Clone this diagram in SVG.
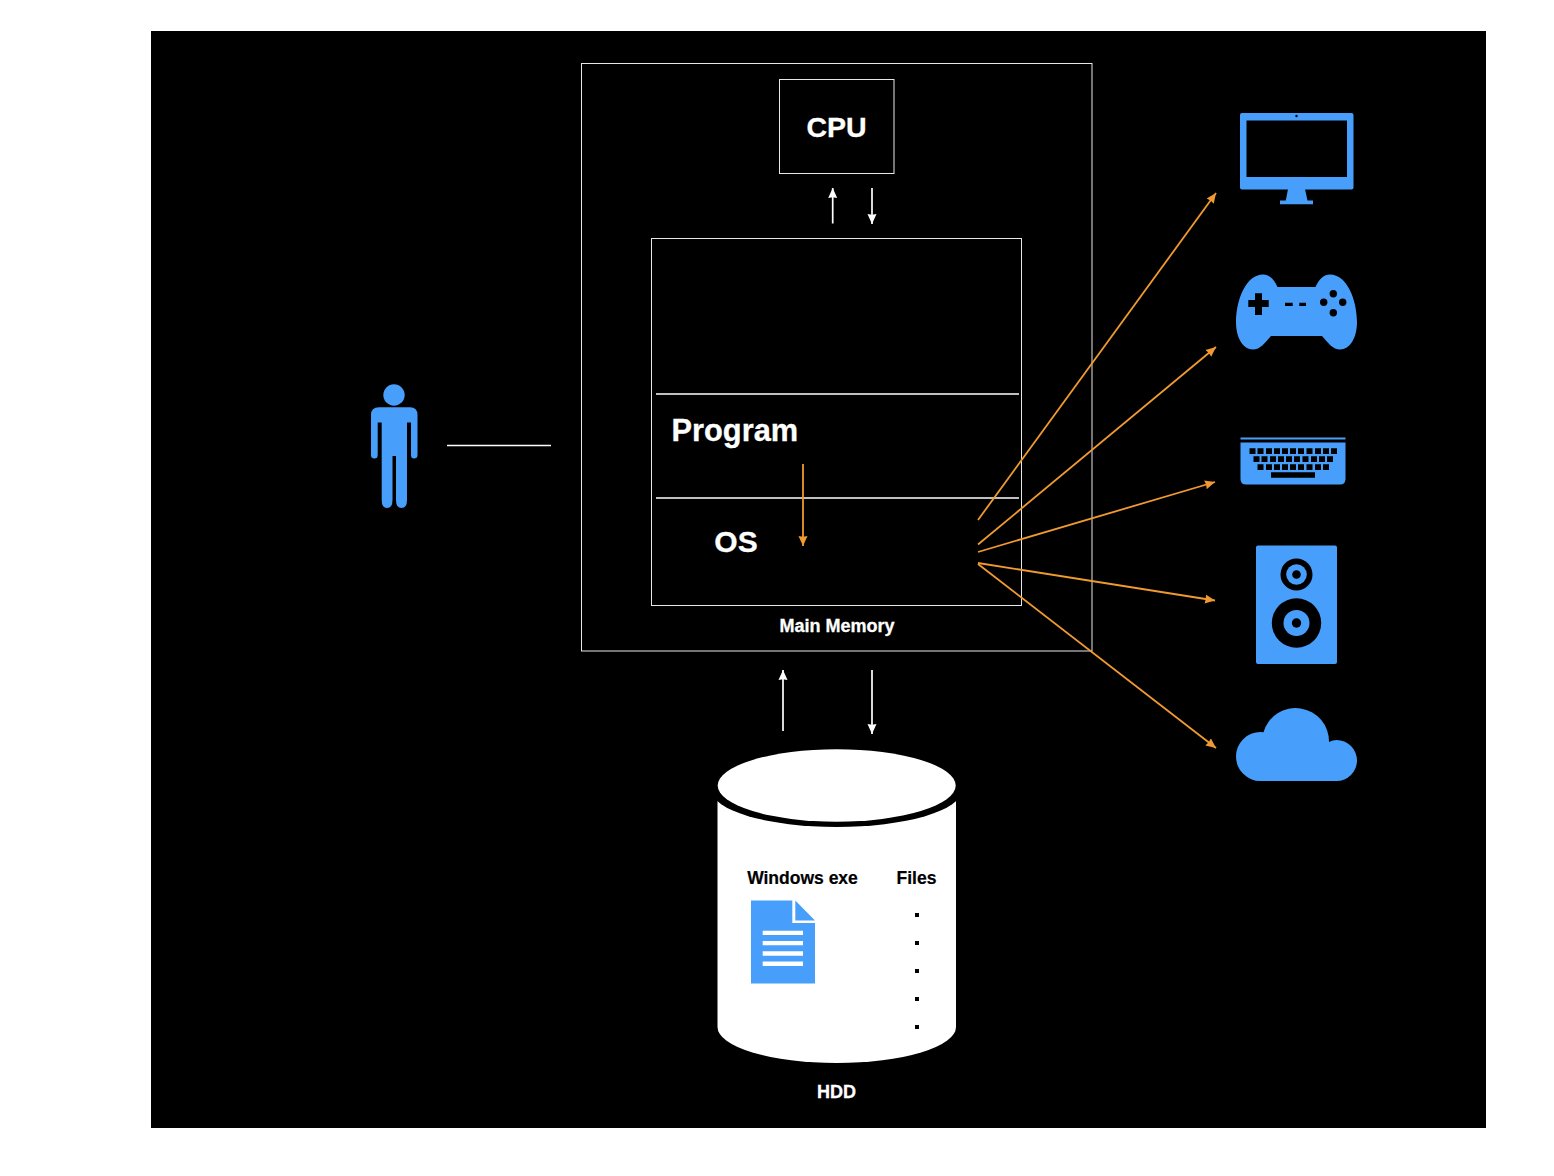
<svg xmlns="http://www.w3.org/2000/svg" width="1554" height="1176" viewBox="0 0 1554 1176">
<defs>
<style>
.box{fill:none;stroke:#e8e8e8;stroke-width:1}
.sep{stroke:#fff;stroke-width:1.6;fill:none}
.w{stroke:#fff;stroke-width:1.700;fill:none}
.o{stroke:#f09a30;stroke-width:1.800;fill:none}
.ic{fill:#479ffb}
.k{fill:#000}
text{font-family:"Liberation Sans",Arial,sans-serif;font-weight:700}
.lw{fill:#fff;stroke:#fff;stroke-width:.3}
.lk{fill:#000;stroke:#000;stroke-width:.2}
</style>
<marker id="aw" markerUnits="userSpaceOnUse" markerWidth="12" markerHeight="11" refX="10" refY="5" orient="auto"><path d="M0 .5L10 5L0 9.500L.8 5z" fill="#fff"/></marker>
<marker id="ao" markerUnits="userSpaceOnUse" markerWidth="12" markerHeight="11" refX="10" refY="5" orient="auto"><path d="M0 .5L10 5L0 9.500L.8 5z" fill="#f09a30"/></marker>
</defs>
<rect width="1554" height="1176" fill="#fff"/>
<rect x="151" y="31" width="1335" height="1097" fill="#000"/>

<g id="main-memory">
<rect class="box" x="581.500" y="63.500" width="510.500" height="587.500"/>
<text class="lw" x="837" y="632" font-size="18" text-anchor="middle">Main Memory</text>
</g>
<g id="cpu">
<rect class="box" x="779.500" y="79.500" width="114.500" height="94"/>
<text class="lw" x="836.500" y="137" font-size="28.500" text-anchor="middle">CPU</text>
</g>
<g id="memory-stack">
<rect class="box" x="651.500" y="238.500" width="370" height="367"/>
<line class="sep" x1="656" y1="394" x2="1019" y2="394"/>
<line class="sep" x1="656" y1="498" x2="1019" y2="498"/>
</g>
<g id="program"><text class="lw" x="671.500" y="440.500" font-size="30.800">Program</text></g>
<g id="os"><text class="lw" x="736" y="552" font-size="30" text-anchor="middle">OS</text></g>

<g id="user">
<circle class="ic" cx="394" cy="395" r="10.700"/>
<path class="ic" d="M379 407.300H410Q417.500 407.300 417.500 415V455Q417.500 458.500 414 458.500Q411 458.500 411 455V422.500H407V500Q407 508 401.500 508Q396 508 396 500V456H392.500V500Q392.500 508 387 508Q381.700 508 381.700 500V422.500H377.700V455Q377.700 458.500 374.500 458.500Q371 458.500 371 455V415Q371 407.300 379 407.300Z"/>
</g>

<g id="connectors">
<line class="w" x1="447" y1="445.500" x2="551" y2="445.500"/>
<line class="w" x1="832.700" y1="223.500" x2="832.700" y2="188" marker-end="url(#aw)"/>
<line class="w" x1="872" y1="188" x2="872" y2="224" marker-end="url(#aw)"/>
<line class="w" x1="783" y1="731" x2="783" y2="670" marker-end="url(#aw)"/>
<line class="w" x1="872" y1="670" x2="872" y2="734" marker-end="url(#aw)"/>
<line class="o" x1="803" y1="464" x2="803" y2="546" marker-end="url(#ao)"/>
<line class="o" x1="978" y1="520" x2="1216" y2="193" marker-end="url(#ao)"/>
<line class="o" x1="978" y1="544.500" x2="1216" y2="347" marker-end="url(#ao)"/>
<line class="o" x1="978" y1="552" x2="1215" y2="482" marker-end="url(#ao)"/>
<line class="o" x1="978" y1="563" x2="1215" y2="600.500" marker-end="url(#ao)"/>
<line class="o" x1="978" y1="564" x2="1216" y2="748" marker-end="url(#ao)"/>
</g>

<g id="hdd">
<path fill="#fff" d="M717.500 790V1027A119.250 36 0 0 0 956 1027V790Z"/>
<ellipse cx="836.700" cy="790" rx="125" ry="37" fill="#000"/>
<ellipse cx="836.700" cy="785.500" rx="119" ry="36.200" fill="#fff"/>
<text class="lk" x="802.500" y="884" font-size="17.500" text-anchor="middle">Windows exe</text>
<text class="lk" x="916.500" y="884" font-size="17.500" text-anchor="middle">Files</text>
<path class="k" d="M915 913h4v4h-4zM915 941h4v4h-4zM915 969h4v4h-4zM915 997h4v4h-4zM915 1025h4v4h-4z"/>
<text class="lw" x="836.500" y="1098" font-size="18" text-anchor="middle">HDD</text>
</g>
<g id="document">
<path class="ic" d="M751 900.500H792.300V923H815V983.500H751Z"/>
<path class="ic" d="M795.300 900.500L815 920.500H795.300Z"/>
<path fill="#fff" d="M762.700 930.700H803V935H762.700ZM762.700 941H803V945.300H762.700ZM762.700 951.300H803V955.700H762.700ZM762.700 961.500H803V966H762.700Z"/>
</g>

<g id="monitor">
<rect class="ic" x="1240" y="113" width="113.500" height="76.500" rx="2"/>
<rect class="k" x="1246.500" y="120.500" width="100.500" height="56.500"/>
<circle class="k" cx="1296.500" cy="116" r="1.200"/>
<path class="ic" d="M1288 189H1305L1307.500 200.500H1313V204.300H1280V200.500H1285.800Z"/>
</g>
<g id="gamepad">
<path class="ic" d="M1277.500 287H1315.500C1319 279 1324 274.500 1330 274.500C1347 274.500 1357 300 1357 322C1357 338 1350 349.500 1340 349.500C1333 349.500 1328 343 1322 336H1271C1265 343 1260 349.500 1253 349.500C1243 349.500 1236 338 1236 322C1236 300 1246 274.500 1263 274.500C1269 274.500 1274 279 1277.500 287Z"/>
<path class="k" d="M1255 293.300H1262V300H1268.700V307H1262V315H1255V307H1248.300V300H1255ZM1285 302.700H1292.700V306H1285ZM1299.300 302.700H1306V306H1299.300Z"/>
<circle class="k" cx="1333.300" cy="293.700" r="3.700"/><circle class="k" cx="1323.700" cy="302.300" r="3.700"/><circle class="k" cx="1342.700" cy="302.300" r="3.700"/><circle class="k" cx="1333.300" cy="312.700" r="3.700"/>
</g>
<g id="keyboard">
<rect class="ic" x="1240.500" y="437.500" width="105" height="2"/>
<path class="ic" d="M1240.500 442.500H1345.500V479Q1345.500 484.500 1340 484.500H1246Q1240.500 484.500 1240.500 479Z"/>
<path class="k" d="M1249.500 448.200h6v5.800h-6zM1257.500 448.200h6v5.800h-6zM1266 448.200h6v5.800h-6zM1274 448.200h6v5.800h-6zM1282 448.200h6v5.800h-6zM1290 448.200h6v5.800h-6zM1298 448.200h6v5.800h-6zM1306.500 448.200h6v5.800h-6zM1315 448.200h6v5.800h-6zM1323 448.200h6v5.800h-6zM1331 448.200h6v5.800h-6zM1253.500 456.200h6v5.800h-6zM1261.500 456.200h6v5.800h-6zM1270 456.200h6v5.800h-6zM1278 456.200h6v5.800h-6zM1286 456.200h6v5.800h-6zM1294 456.200h6v5.800h-6zM1302.500 456.200h6v5.800h-6zM1311 456.200h6v5.800h-6zM1319 456.200h6v5.800h-6zM1327 456.200h6v5.800h-6zM1257.500 464.200h6v5.800h-6zM1266 464.200h6v5.800h-6zM1274 464.200h6v5.800h-6zM1282 464.200h6v5.800h-6zM1290 464.200h6v5.800h-6zM1298 464.200h6v5.800h-6zM1306.500 464.200h6v5.800h-6zM1315 464.200h6v5.800h-6zM1323 464.200h6v5.800h-6zM1271 472.300h44v5.500h-44z"/>
</g>
<g id="speaker">
<rect class="ic" x="1256" y="545.500" width="81" height="118.500" rx="2"/>
<circle class="k" cx="1296.500" cy="574.500" r="16"/><circle class="ic" cx="1296.500" cy="574.500" r="10.300"/><circle class="k" cx="1296.500" cy="574.500" r="4.300"/>
<circle class="k" cx="1296.500" cy="623" r="24.700"/><circle class="ic" cx="1296.500" cy="623" r="13"/><circle class="k" cx="1296.500" cy="623" r="4.700"/>
</g>
<g id="cloud">
<path class="ic" d="M1260.500 781A24.500 24.500 0 0 1 1260.500 732Q1262 732 1263.500 732.200A33.400 33.400 0 0 1 1329 742Q1333 740 1336.500 740A20.500 20.500 0 0 1 1336.500 781Z"/>
</g>
</svg>
